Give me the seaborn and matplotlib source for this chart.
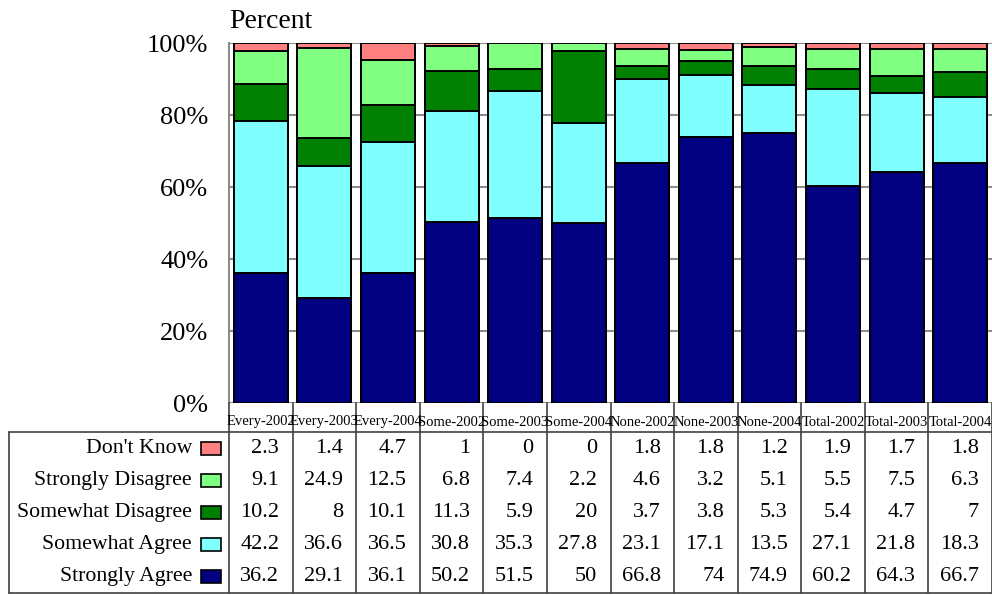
import matplotlib
matplotlib.use("Agg")
import matplotlib.pyplot as plt
import seaborn as sns
import numpy as np
import pandas as pd

categories = ["Every-2002", "Every-2003", "Every-2004", "Some-2002", "Some-2003", "Some-2004",
              "None-2002", "None-2003", "None-2004", "Total-2002", "Total-2003", "Total-2004"]
dont_know = [2.3, 1.4, 4.7, 1, 0, 0, 1.8, 1.8, 1.2, 1.9, 1.7, 1.8]
strongly_disagree = [9.1, 24.9, 12.5, 6.8, 7.4, 2.2, 4.6, 3.2, 5.1, 5.5, 7.5, 6.3]
somewhat_disagree = [10.2, 8, 10.1, 11.3, 5.9, 20, 3.7, 3.8, 5.3, 5.4, 4.7, 7]
somewhat_agree = [42.2, 36.6, 36.5, 30.8, 35.3, 27.8, 23.1, 17.1, 13.5, 27.1, 21.8, 18.3]
strongly_agree = [36.2, 29.1, 36.1, 50.2, 51.5, 50, 66.8, 74, 74.9, 60.2, 64.3, 66.7]

# stacking order bottom -> top
series_names = ["Strongly Agree", "Somewhat Agree", "Somewhat Disagree", "Strongly Disagree", "Don't Know"]
series_vals = [strongly_agree, somewhat_agree, somewhat_disagree, strongly_disagree, dont_know]
series_colors = ["#000080", "#80FFFF", "#008000", "#80FF80", "#FF8080"]
y_ticks = [0, 20, 40, 60, 80, 100]
y_ticklabels = ["0%", "20%", "40%", "60%", "80%", "100%"]

sns.set_style("white")
plt.rcParams["font.family"] = ["Liberation Serif", "DejaVu Serif"]
plt.rcParams["text.color"] = "black"
plt.rcParams["ytick.color"] = "black"
plt.rcParams["ytick.labelcolor"] = "black"

W, H = 992, 595
fig = plt.figure(figsize=(W / 100, H / 100), dpi=100)

ax_left, ax_right, ax_top, ax_bot = 229, 992, 43, 403
ax = fig.add_axes([ax_left / W, 1 - ax_bot / H, (ax_right - ax_left) / W, (ax_bot - ax_top) / H])

cum = np.zeros(len(categories))
cums = []
for vals in series_vals:
    cum = cum + np.array(vals, dtype=float)
    cums.append(cum.copy())

# draw tallest (top) layer first so lower layers overlay
for name, c, color in reversed(list(zip(series_names, cums, series_colors))):
    d = pd.DataFrame({"cat": categories, "val": c})
    sns.barplot(data=d, x="cat", y="val", order=categories, color=color, width=0.85,
                edgecolor="black", linewidth=1.4, saturation=1, ax=ax, errorbar=None)

ax.set_xlim(-0.5, len(categories) - 0.5)
ax.set_ylim(0, 100)
ax.set_yticks(y_ticks)
ax.set_yticklabels(y_ticklabels, fontsize=19, color="black")
ax.tick_params(axis="y", length=0, pad=15)
ax.set_xticks([])
ax.set_xlabel("")
ax.set_ylabel("")
ax.set_axisbelow(True)
ax.yaxis.grid(True, color="#8c8c8c", linewidth=1.5)
for s in ["top", "right", "bottom"]:
    ax.spines[s].set_visible(False)
ax.spines["left"].set_color("#8c8c8c")
ax.spines["left"].set_linewidth(1.5)

fig.text(ax_left / W, 1 - 28 / H, "Percent", fontsize=20, ha="left", va="baseline", color="black")

# table axes, aligned with main axis columns
colw = (ax_right - ax_left) / len(categories)
tax = fig.add_axes([0, 0, 1, 1 - ax_bot / H])
tax.set_xlim(-0.5 - ax_left / colw, len(categories) - 0.5)
tax.set_ylim(H, ax_bot)
tax.axis("off")

tbl_top, tbl_bot = 432, 593
row_h = (tbl_bot - tbl_top) / 5
left_x = -0.5 - (ax_left - 9) / colw
lc = "#404040"
n = len(categories)
# category labels
for i, c in enumerate(categories):
    tax.text(i, 422, c, fontsize=10.5, ha="center", va="center", color="black")
# vertical lines
for i in range(n + 1):
    tax.plot([i - 0.5, i - 0.5], [ax_bot, tbl_bot], color=lc, lw=1.2, clip_on=False)
tax.plot([left_x, left_x], [tbl_top, tbl_bot], color=lc, lw=1.2, clip_on=False)
tax.plot([left_x, n - 0.5], [tbl_top, tbl_top], color=lc, lw=1.2, clip_on=False)
tax.plot([left_x, n - 0.5], [tbl_bot, tbl_bot], color=lc, lw=1.2, clip_on=False)

table_order = list(reversed(range(len(series_names))))
label_right = -0.5 - (ax_left - 192) / colw
sq_l = -0.5 - (ax_left - 201) / colw
sq_w = 20 / colw
for r, k in enumerate(table_order):
    yc = tbl_top + row_h * (r + 0.5)
    tax.text(label_right, yc, series_names[k], fontsize=15.7, ha="right", va="center", color="black")
    tax.add_patch(plt.Rectangle((sq_l, yc - 6.5), sq_w, 13, facecolor=series_colors[k],
                                edgecolor="black", lw=1.2, clip_on=False))
    for i, v in enumerate(series_vals[k]):
        tax.text(i + 0.5 - 0.21, yc, f"{v:g}", fontsize=16, ha="right", va="center", color="black")

fig.savefig("out.png", dpi=100)
